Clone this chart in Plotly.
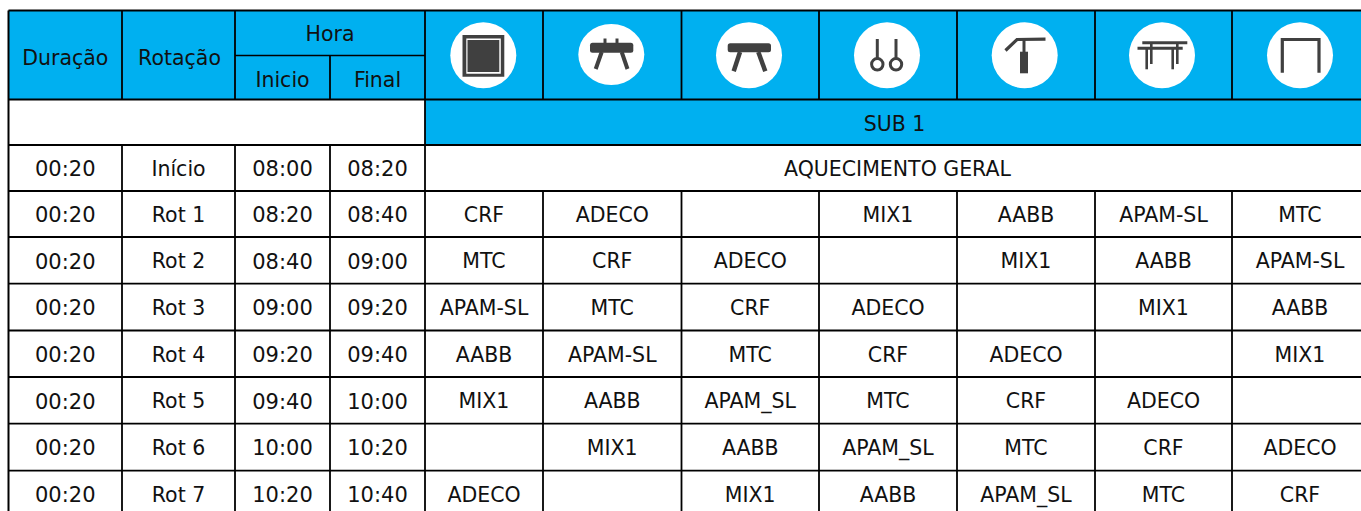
import plotly.graph_objects as go

# ---------- table content ----------
duration = ["00:20"] * 8
rotation = ["Início", "Rot 1", "Rot 2", "Rot 3", "Rot 4", "Rot 5", "Rot 6", "Rot 7"]
start = ["08:00", "08:20", "08:40", "09:00", "09:20", "09:40", "10:00", "10:20"]
end = ["08:20", "08:40", "09:00", "09:20", "09:40", "10:00", "10:20", "10:40"]
warmup = "AQUECIMENTO GERAL"
subdivision = "SUB 1"
rot1 = ["CRF", "ADECO", "", "MIX1", "AABB", "APAM-SL", "MTC"]
rot2 = ["MTC", "CRF", "ADECO", "", "MIX1", "AABB", "APAM-SL"]
rot3 = ["APAM-SL", "MTC", "CRF", "ADECO", "", "MIX1", "AABB"]
rot4 = ["AABB", "APAM-SL", "MTC", "CRF", "ADECO", "", "MIX1"]
rot5 = ["MIX1", "AABB", "APAM_SL", "MTC", "CRF", "ADECO", ""]
rot6 = ["", "MIX1", "AABB", "APAM_SL", "MTC", "CRF", "ADECO"]
rot7 = ["ADECO", "", "MIX1", "AABB", "APAM_SL", "MTC", "CRF"]
assignments = [rot1, rot2, rot3, rot4, rot5, rot6, rot7]

# ---------- layout grid (pixels) ----------
W, H = 1361, 511
COL_X = [8.5, 122, 235, 330, 425, 543, 681.5, 819, 957, 1095, 1232, 1370]
HEAD_Y = [10.5, 55.5, 99.5, 145]
ROW_Y = [145, 191, 237, 283.7, 330.5, 377, 423.7, 470.7, 517.5]
BLUE = "#00B0F0"
DARK = "#404040"
INK = "#111111"
FONT = "DejaVu Sans"
FS = 20.5
FS_TIME = 21

shapes = []


def rect(x0, y0, x1, y1, fill, line=None, lw=0, layer="below"):
    shapes.append(dict(type="rect", x0=x0, y0=y0, x1=x1, y1=y1, fillcolor=fill,
                       line=dict(color=line or fill, width=lw), layer=layer))


def seg(x0, y0, x1, y1, color="#000000", lw=2, layer="above"):
    shapes.append(dict(type="line", x0=x0, y0=y0, x1=x1, y1=y1,
                       line=dict(color=color, width=lw), layer=layer))


# backgrounds
rect(COL_X[0], HEAD_Y[0], W + 10, HEAD_Y[2], BLUE)
rect(COL_X[4], HEAD_Y[2], W + 10, HEAD_Y[3], BLUE)

# horizontal rules
seg(COL_X[0], HEAD_Y[0], W + 10, HEAD_Y[0])
seg(COL_X[2], HEAD_Y[1], COL_X[4], HEAD_Y[1], lw=1.5)
seg(COL_X[0], HEAD_Y[2], W + 10, HEAD_Y[2], lw=2)
seg(COL_X[0], HEAD_Y[3], W + 10, HEAD_Y[3], lw=2)
for y in ROW_Y[1:-1]:
    seg(COL_X[0], y, W + 10, y, lw=1.8)

# vertical rules
seg(COL_X[0], HEAD_Y[0], COL_X[0], H + 5, lw=2)
for i in (1, 2):
    seg(COL_X[i], HEAD_Y[0], COL_X[i], HEAD_Y[2], lw=1.8)
    seg(COL_X[i], HEAD_Y[3], COL_X[i], H + 5, lw=1.8)
seg(COL_X[3], HEAD_Y[1], COL_X[3], HEAD_Y[2], lw=1.8)
seg(COL_X[3], HEAD_Y[3], COL_X[3], H + 5, lw=1.8)
seg(COL_X[4], HEAD_Y[0], COL_X[4], H + 5, lw=1.8)
for i in range(5, 11):
    seg(COL_X[i], HEAD_Y[0], COL_X[i], HEAD_Y[2], lw=1.8)
    seg(COL_X[i], ROW_Y[1], COL_X[i], H + 5, lw=1.8)

# ---------- text ----------
tx, ty, tt = [], [], []
nx, ny, nt = [], [], []


def label(x, y, s):
    if s:
        tx.append(x)
        ty.append(y)
        tt.append(s)


def time_label(x, y, s):
    nx.append(x)
    ny.append(y)
    nt.append(s)


def mid(a, b):
    return (a + b) / 2


label(mid(COL_X[0], COL_X[1]), 59.5, "Duração")
label(mid(COL_X[1], COL_X[2]) + 1, 59.5, "Rotação")
label(mid(COL_X[2], COL_X[4]), 36, "Hora")
label(mid(COL_X[2], COL_X[3]), 82, "Inicio")
label(mid(COL_X[3], COL_X[4]), 82, "Final")
label(mid(COL_X[4], COL_X[11]) - 3, 125.5, subdivision)

for r in range(8):
    y = mid(ROW_Y[r], ROW_Y[r + 1]) + 3
    time_label(mid(COL_X[0], COL_X[1]), y, duration[r])
    label(mid(COL_X[1], COL_X[2]), y, rotation[r])
    time_label(mid(COL_X[2], COL_X[3]), y, start[r])
    time_label(mid(COL_X[3], COL_X[4]), y, end[r])
    if r == 0:
        label(mid(COL_X[4], COL_X[11]), y, warmup)
    else:
        for c, name in enumerate(assignments[r - 1]):
            label(mid(COL_X[4 + c], COL_X[5 + c]) if c < 6 else 1300, y, name)

# ---------- apparatus icons ----------
ICON_X = [483.3, 611.3, 749, 887, 1024.7, 1162, 1300]
ICON_Y = [55.3, 54.5, 55.3, 55.3, 55.3, 55.3, 55.3]
ICON_RY = [33, 30.5, 33, 33, 33, 33, 33]
for cx, cy, ry in zip(ICON_X, ICON_Y, ICON_RY):
    shapes.append(dict(type="circle", x0=cx - 33, x1=cx + 33, y0=cy - ry, y1=cy + ry,
                       fillcolor="#FFFFFF", line=dict(width=0), layer="above"))

# floor
cx = ICON_X[0]
rect(cx - 20.8, 35, cx + 21, 76.7, DARK, layer="above")
rect(cx - 17, 38.6, cx + 17.5, 73.7, "#FFFFFF", layer="above")
rect(cx - 15.8, 40, cx + 16, 71.9, DARK, layer="above")


def rounded(x0, y0, x1, y1, r=2.5):
    return (f"M{x0 + r},{y0} L{x1 - r},{y0} Q{x1},{y0} {x1},{y0 + r} L{x1},{y1 - r} "
            f"Q{x1},{y1} {x1 - r},{y1} L{x0 + r},{y1} Q{x0},{y1} {x0},{y1 - r} "
            f"L{x0},{y0 + r} Q{x0},{y0} {x0 + r},{y0} Z")


def body(x0, y0, x1, y1):
    shapes.append(dict(type="path", path=rounded(x0, y0, x1, y1), fillcolor=DARK,
                       line=dict(width=0), layer="above"))


# pommel horse
body(590, 42.7, 633.3, 52.7)
seg(605, 38.5, 605, 44, DARK, 3)
seg(617, 38.5, 617, 44, DARK, 3)
seg(601.7, 52, 595.7, 69, DARK, 4)
seg(621.7, 52, 627.5, 69, DARK, 4)

# vault
body(727.7, 43.3, 771, 52.3)
seg(740, 52, 733.7, 71.3, DARK, 4.5)
seg(758.3, 52, 765.3, 71.3, DARK, 4.5)

# rings
for x in (877.3, 896):
    seg(x, 39, x, 58.5, DARK, 3)
    shapes.append(dict(type="circle", x0=x - 5.7, x1=x + 5.7, y0=58.6, y1=70,
                       fillcolor="#FFFFFF", line=dict(color=DARK, width=3), layer="above"))

# tall apparatus glyph
shapes.append(dict(type="path", path="M1005.5,50.5 L1017,39.5 L1045.5,39.2", line=dict(color=DARK, width=3.2),
                   layer="above"))
seg(1024, 39, 1024, 52, DARK, 3)
rect(1020, 51.7, 1028, 73.3, DARK, layer="above")

# parallel bars
seg(1142.3, 42.7, 1187.3, 42.7, DARK, 3)
seg(1137.5, 48.3, 1182.7, 48.3, DARK, 3)
for x, y0, y1 in ((1146.7, 48.3, 69.3), (1151.3, 42.7, 64), (1172.7, 48.3, 69.3), (1177.3, 42.7, 64)):
    seg(x, y0, x, y1, DARK, 2.6)

# high bar
shapes.append(dict(type="path", path="M1282.3,72.7 L1282.3,39.5 L1319,39.5 L1319,72.7",
                   line=dict(color=DARK, width=3.2), layer="above"))

fig = go.Figure()
fig.add_trace(go.Scatter(x=tx, y=ty, text=tt, mode="text", textposition="middle center",
                         textfont=dict(family=FONT, size=FS, color=INK), hoverinfo="skip",
                         showlegend=False))
fig.add_trace(go.Scatter(x=nx, y=ny, text=nt, mode="text", textposition="middle center",
                         textfont=dict(family=FONT, size=FS_TIME, color=INK), hoverinfo="skip",
                         showlegend=False))
fig.update_layout(width=W, height=H, margin=dict(l=0, r=0, t=0, b=0), paper_bgcolor="#FFFFFF",
                  plot_bgcolor="#FFFFFF", shapes=shapes, showlegend=False,
                  xaxis=dict(range=[0, W], visible=False, fixedrange=True),
                  yaxis=dict(range=[H, 0], visible=False, fixedrange=True))
fig.write_html("out.html", config=dict(displayModeBar=False, responsive=False),
               post_script="document.body.style.margin='0';document.documentElement.style.overflow='hidden';")
